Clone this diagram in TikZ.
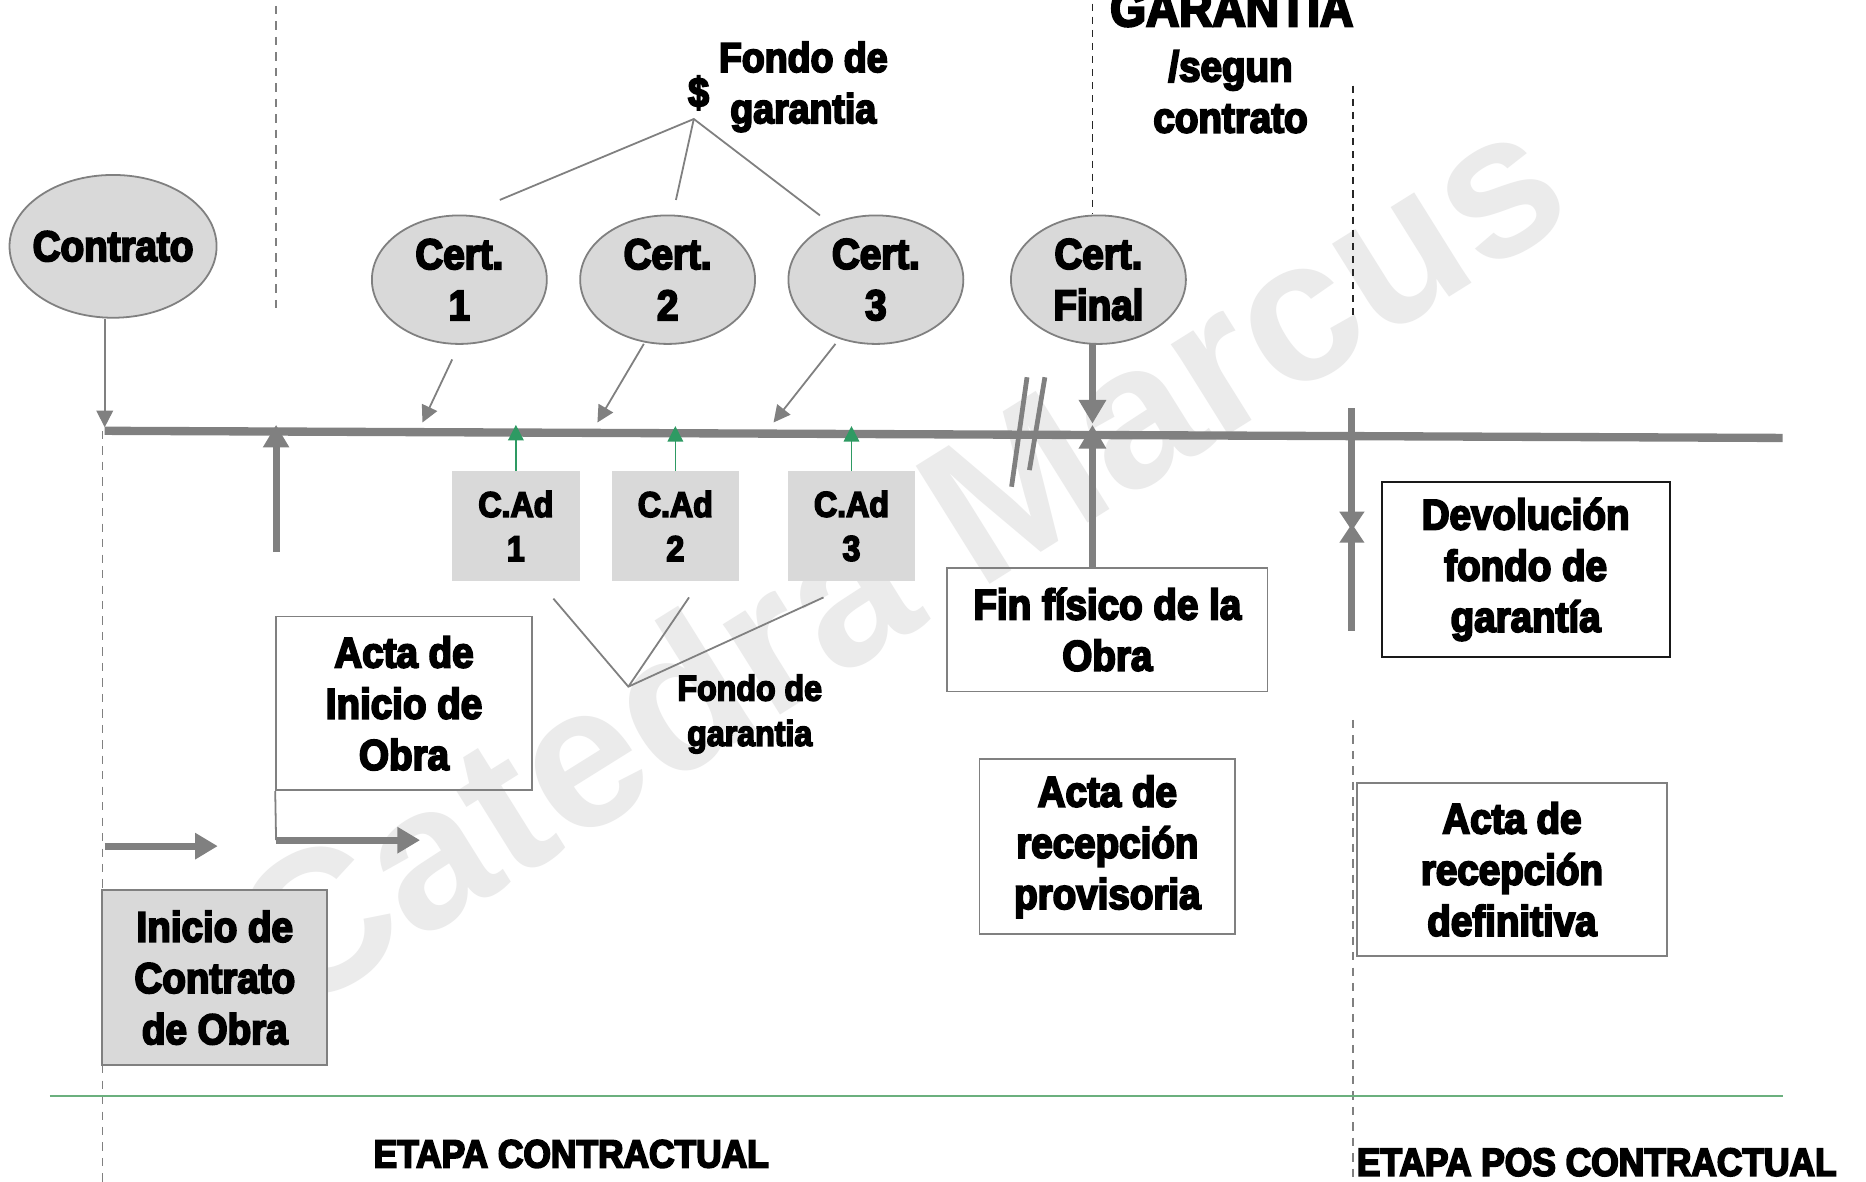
\documentclass[tikz,border=0pt]{standalone}
\usepackage{fontspec}
\setmainfont[FakeStretch=0.9, BoldFont={Liberation Sans Bold}, BoldFeatures={FakeBold=4.5}]{Liberation Sans}
\newfontfamily\wmfont[BoldFont={Liberation Sans Bold Italic}]{Liberation Sans}
\usetikzlibrary{arrows.meta,shapes.geometric}
\definecolor{cfill}{HTML}{D9D9D9}
\definecolor{cline}{HTML}{808080}
\definecolor{cgreen}{HTML}{2E9A63}
\definecolor{lgreen}{HTML}{6BB07E}
\definecolor{wmcol}{HTML}{EBEBEB}
\begin{document}
\begin{tikzpicture}[x=1pt,y=-1pt,
  txt/.style={font=\bfseries\fontsize{36}{43}\selectfont, align=center, text=black},
  cert/.style={ellipse, draw=cline, line width=1.5pt, fill=cfill, minimum width=147pt, minimum height=108pt, inner sep=0pt, txt},
  cad/.style={rectangle, fill=cfill, minimum width=107pt, minimum height=92pt, inner sep=0pt, txt, font=\bfseries\fontsize{30}{37}\selectfont},
  wbox/.style={rectangle, draw=cline, line width=1.5pt, inner sep=0pt, txt},
  tline/.style={draw=cline, line width=1.5pt},
  tarrow/.style={tline, -{Triangle[width=14pt,length=14pt]}},
  bigarrow/.style={draw=cline, line width=6pt, -{Triangle[width=21pt,length=19pt]}},
  garrow/.style={draw=cgreen, line width=1.4pt, -{Triangle[width=13pt,length=13pt]}},
  gdash/.style={draw=cline, line width=1.2pt, dash pattern=on 7pt off 6pt},
  kdash/.style={draw=black!85, line width=1.5pt, dash pattern=on 6pt off 5pt},
]
\clip (0,0) rectangle (1568,993);
\fill[white] (0,0) rectangle (1568,993);

% watermark
\node[text=wmcol, font=\wmfont\bfseries\itshape\fontsize{170}{170}\selectfont, rotate=32] (wm) at (754,468) {Catedra Marcus};

% dashed guide lines
\draw[gdash] (232,5) -- (232,262);
\draw[gdash] (86,362) -- (86,993);
\draw[kdash] (918,3) -- (918,180);
\draw[kdash] (1137,72) -- (1137,265);
\draw[gdash] (1137,605) -- (1137,993);

% green base line
\draw[lgreen, line width=1.3pt] (42,921) -- (1498,921);

% timeline
\coordinate (tlL) at (88,362);
\coordinate (tlR) at (1498,368);
\draw[cline, line width=7pt] (tlL) -- (tlR);

% break mark
\draw[cline, line width=4pt] (863,317) -- (850,409);
\draw[cline, line width=4pt] (878,317) -- (865,395);

% ellipses
\node[cert, minimum width=174pt, minimum height=120pt, inner xsep=-9pt] (contrato) at (95,207) {Contrato};
\node[cert] (c1) at (386,235) {Cert.\\1};
\node[cert] (c2) at (561,235) {Cert.\\2};
\node[cert] (c3) at (736,235) {Cert.\\3};
\node[cert] (cf) at (923,235) {Cert.\\Final};

% C.Ad boxes
\node[cad] (a1) at (433.5,442) {C.Ad\\1};
\node[cad] (a2) at (567.5,442) {C.Ad\\2};
\node[cad] (a3) at (715.5,442) {C.Ad\\3};

% boxes
\node[wbox, minimum width=215pt, minimum height=146pt] (actaini) at (339.5,591) {Acta de\\Inicio de\\Obra};
\node[wbox, fill=cfill, minimum width=189pt, minimum height=147pt] (inicio) at (180.5,821.5) {Inicio de\\Contrato\\de Obra};
\node[wbox, minimum width=269pt, minimum height=104pt] (finfis) at (930.5,529) {Fin físico de la\\Obra};
\node[wbox, minimum width=215pt, minimum height=147pt] (actaprov) at (930.5,711.5) {Acta de\\recepción\\provisoria};
\node[wbox, draw=black!90, minimum width=242pt, minimum height=147pt] (devol) at (1282,478.5) {Devolución\\fondo de\\garantía};
\node[wbox, minimum width=261pt, minimum height=145pt] (actadef) at (1270.5,730.5) {Acta de\\recepción\\definitiva};

% texts
\node[txt, font=\bfseries\fontsize{35}{43}\selectfont] (dollar) at (587,78) {\$};
\node[txt, font=\bfseries\fontsize{35}{43}\selectfont] (fondo1) at (675,73) {Fondo de\\garantia};
\node[txt, font=\bfseries\fontsize{30}{38}\selectfont] (fondo2) at (630,600) {Fondo de\\garantia};
\node[txt, font=\bfseries\fontsize{43}{43}\selectfont, anchor=base] (garant) at (1035,22) {GARANTIA};
\node[txt] (segun) at (1034,77) {/segun\\contrato};
\node[txt, font=\bfseries\fontsize{33}{40}\selectfont, anchor=base] (etapa1) at (480,981) {ETAPA CONTRACTUAL};
\node[txt, font=\bfseries\fontsize{33}{40}\selectfont, anchor=base west, inner sep=0pt] (etapa2) at (1140,988) {ETAPA POS CONTRACTUAL};

% Contrato arrow
\coordinate (c0) at (88,359);
\draw[tarrow] (contrato.south -| c0) -- (c0);

% Cert arrows to timeline
\coordinate (s1) at (380,302); \coordinate (e1) at (355,355);
\coordinate (s2) at (541,289); \coordinate (e2) at (502,355);
\coordinate (s3) at (702,289); \coordinate (e3) at (650,355);
\draw[tarrow] (s1) -- (e1);
\draw[tarrow] (s2) -- (e2);
\draw[tarrow] (s3) -- (e3);

% fondo de garantia (top) lines
\coordinate (fg) at (583,100);
\coordinate (f1) at (420,168);
\coordinate (f2) at (568,168);
\coordinate (f3) at (689,181);
\draw[tline] (f1) -- (fg) -- (f3);
\draw[tline] (f2) -- (fg);

% green arrows from C.Ad
\draw[garrow] (a1.north) -- (433.5,357);
\draw[garrow] (a2.north) -- (567.5,358);
\draw[garrow] (a3.north) -- (715.5,358);

% lower fondo lines
\coordinate (fb) at (528,577);
\coordinate (g1) at (465,503);
\coordinate (g2) at (579,502);
\coordinate (g3) at (692,502);
\draw[tline] (g1) -- (fb) -- (g3);
\draw[tline] (g2) -- (fb);

% up arrow at 232
\coordinate (u0) at (232,464);
\coordinate (u1) at (232,357);
\draw[bigarrow] (u0) -- (u1);

% acta de inicio -> arrow
\coordinate (k1) at (232,706);
\coordinate (k2) at (353,706);
\draw[tline] (actaini.south west) -- (k1);
\draw[bigarrow] (k1) -- (k2);

% arrow near inicio
\coordinate (h1) at (88,711);
\coordinate (h2) at (183,711);
\draw[bigarrow] (h1) -- (h2);

% cert final arrows
\coordinate (cf0) at (918,289);
\coordinate (cf1) at (918,356);
\coordinate (cf2) at (918,357);
\draw[bigarrow, line width=5.5pt, -{Triangle[width=22pt,length=20pt]}] (cf0) -- (cf1);
\draw[bigarrow, line width=5.5pt, -{Triangle[width=22pt,length=20pt]}] (finfis.north -| cf2) -- (cf2);

% devolucion arrows (bowtie)
\coordinate (d0) at (1136,343);
\coordinate (d1) at (1136,446);
\coordinate (d2) at (1136,530);
\coordinate (d3) at (1136,440);
\draw[bigarrow, -{Triangle[width=20pt,length=16pt]}] (d0) -- (d1);
\draw[bigarrow, -{Triangle[width=20pt,length=16pt]}] (d2) -- (d3);
\end{tikzpicture}
\end{document}
